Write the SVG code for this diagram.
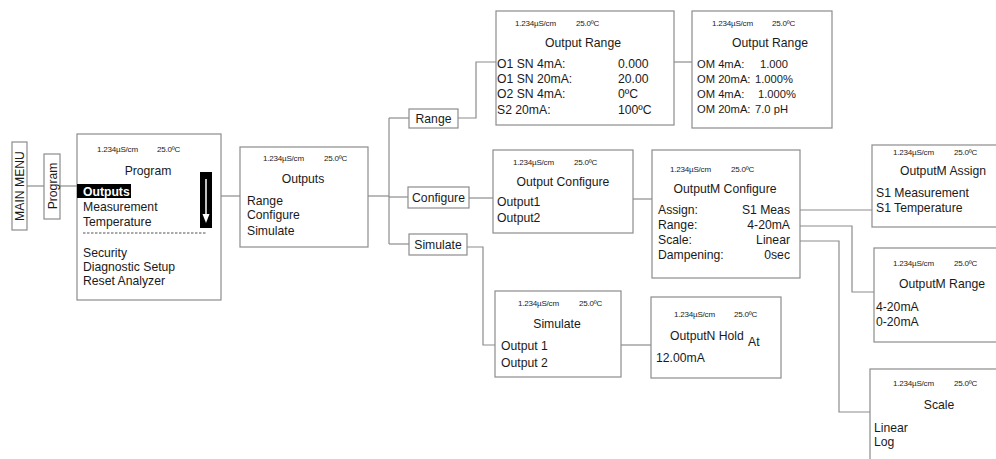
<svg xmlns="http://www.w3.org/2000/svg" width="996" height="459" viewBox="0 0 996 459">
<style>
.box{fill:#fff;stroke:#8c8c8c;stroke-width:1.2}
.ln{fill:none;stroke:#8c8c8c;stroke-width:1.2}
text{font-family:"Liberation Sans",Arial,sans-serif;fill:#1a1a1a}
.t{font-size:12.2px}
.n{font-size:11.2px}
.s{font-size:8px;letter-spacing:-0.2px}
.c{text-anchor:middle}
.r{text-anchor:end}
</style>
<rect width="996" height="459" fill="#fff"/>
<g id="connectors">
<path class="ln" d="M27,186 H44"/>
<path class="ln" d="M60,186 H77"/>
<path class="ln" d="M221,196 H240"/>
<path class="ln" d="M368,196 H389"/>
<path class="ln" d="M389,118 V244"/>
<path class="ln" d="M389,118 H409"/>
<path class="ln" d="M389,197 H408"/>
<path class="ln" d="M389,244 H409"/>
<path class="ln" d="M458,118 H476 V62 H496"/>
<path class="ln" d="M674,62 H692"/>
<path class="ln" d="M469,198 H493"/>
<path class="ln" d="M633,199 H652"/>
<path class="ln" d="M467,247 H483 V345 H495"/>
<path class="ln" d="M621,345 H651"/>
<path class="ln" d="M794,210 H872"/>
<path class="ln" d="M794,226 H852 V292 H874"/>
<path class="ln" d="M796,241 H839 V412 H870"/>
</g>
<g id="main-menu">
<rect class="box" x="12" y="142" width="15" height="88"/>
<text class="t" transform="translate(24,186) rotate(-90)" text-anchor="middle" font-size="11.5">MAIN MENU</text>
</g>
<g id="program-tab">
<rect class="box" x="44" y="154" width="16" height="65"/>
<text class="t" transform="translate(56.5,186) rotate(-90)" text-anchor="middle" font-size="11.5">Program</text>
</g>
<g id="program">
<rect class="box" x="77" y="134" width="144" height="166"/>
<text class="s" x="97" y="152">1.234µS/cm</text><text class="s" x="157" y="152">25.0ºC</text>
<text class="t c" x="148" y="175">Program</text>
<rect x="77" y="184" width="54" height="14" fill="#000"/>
<text class="t" x="83" y="196" font-weight="bold" style="fill:#fff">Outputs</text>
<text class="t" x="83" y="211">Measurement</text>
<text class="t" x="83" y="226">Temperature</text>
<path d="M83,233 H207" stroke="#555" stroke-width="1" stroke-dasharray="2.5,1.5"/>
<text class="t" x="83" y="257">Security</text>
<text class="t" x="83" y="271">Diagnostic Setup</text>
<text class="t" x="83" y="285">Reset Analyzer</text>
<rect x="200" y="172" width="12" height="56" fill="#000"/>
<path d="M206,179 V220" stroke="#fff" stroke-width="1.5"/>
<path d="M202.5,214 L206,223 L209.5,214 Z" fill="#fff"/>
</g>
<g id="outputs">
<rect class="box" x="240" y="147" width="128" height="100"/>
<text class="s" x="263" y="161">1.234µS/cm</text><text class="s" x="324" y="161">25.0ºC</text>
<text class="t c" x="303" y="183">Outputs</text>
<text class="t" x="247" y="205">Range</text>
<text class="t" x="247" y="219">Configure</text>
<text class="t" x="247" y="235">Simulate</text>
</g>
<g id="range-tab">
<rect class="box" x="409" y="109" width="49" height="19"/>
<text class="t c" x="433.5" y="123">Range</text>
</g>
<g id="configure-tab">
<rect class="box" x="408" y="187" width="61" height="21"/>
<text class="t c" x="438.5" y="202">Configure</text>
</g>
<g id="simulate-tab">
<rect class="box" x="409" y="234" width="58" height="21"/>
<text class="t c" x="438" y="249">Simulate</text>
</g>
<g id="output-range-1">
<rect class="box" x="496" y="11" width="178" height="114"/>
<text class="s" x="515" y="26">1.234µS/cm</text><text class="s" x="576" y="26">25.0ºC</text>
<text class="t c" x="583" y="47">Output Range</text>
<text class="t" x="497" y="68">O1 SN 4mA:</text>
<text class="t" x="497" y="83">O1 SN 20mA:</text>
<text class="t" x="497" y="98">O2 SN 4mA:</text>
<text class="t" x="497" y="114">S2 20mA:</text>
<text class="t" x="618" y="68">0.000</text>
<text class="t" x="618" y="83">20.00</text>
<text class="t" x="618" y="98">0ºC</text>
<text class="t" x="618" y="114">100ºC</text>
</g>
<g id="output-range-2">
<rect class="box" x="692" y="11" width="140" height="117"/>
<text class="s" x="712" y="26">1.234µS/cm</text><text class="s" x="772" y="26">25.0ºC</text>
<text class="t c" x="770" y="47">Output Range</text>
<text class="n" x="697" y="68">OM 4mA:</text>
<text class="n" x="760" y="68">1.000</text>
<text class="n" x="697" y="83">OM 20mA:</text>
<text class="n" x="755" y="83">1.000%</text>
<text class="n" x="697" y="98">OM 4mA:</text>
<text class="n" x="758" y="98">1.000%</text>
<text class="n" x="697" y="113">OM 20mA:</text>
<text class="n" x="755" y="113">7.0 pH</text>
</g>
<g id="output-configure">
<rect class="box" x="493" y="150" width="140" height="83"/>
<text class="s" x="513" y="165">1.234µS/cm</text><text class="s" x="574" y="165">25.0ºC</text>
<text class="t c" x="563" y="186">Output Configure</text>
<text class="t" x="497" y="206">Output1</text>
<text class="t" x="497" y="222">Output2</text>
</g>
<g id="outputm-configure">
<rect class="box" x="652" y="150" width="148" height="128"/>
<text class="s" x="670" y="172">1.234µS/cm</text><text class="s" x="731" y="172">25.0ºC</text>
<text class="t c" x="725" y="193">OutputM Configure</text>
<text class="t" x="658" y="214">Assign:</text>
<text class="t" x="658" y="229">Range:</text>
<text class="t" x="658" y="244">Scale:</text>
<text class="t" x="658" y="259">Dampening:</text>
<text class="t r" x="790" y="214">S1 Meas</text>
<text class="t r" x="790" y="229">4-20mA</text>
<text class="t r" x="790" y="244">Linear</text>
<text class="t r" x="790" y="259">0sec</text>
</g>
<g id="outputm-assign">
<rect class="box" x="872" y="145" width="140" height="82"/>
<text class="s" x="893" y="155">1.234µS/cm</text><text class="s" x="954" y="155">25.0ºC</text>
<text class="t c" x="943" y="175">OutputM Assign</text>
<text class="t" x="876" y="197">S1 Measurement</text>
<text class="t" x="876" y="212">S1 Temperature</text>
</g>
<g id="outputm-range">
<rect class="box" x="874" y="248" width="140" height="94"/>
<text class="s" x="893" y="266">1.234µS/cm</text><text class="s" x="954" y="266">25.0ºC</text>
<text class="t c" x="942" y="288">OutputM Range</text>
<text class="t" x="876" y="311">4-20mA</text>
<text class="t" x="876" y="326">0-20mA</text>
</g>
<g id="scale">
<rect class="box" x="870" y="369" width="140" height="100"/>
<text class="s" x="893" y="386">1.234µS/cm</text><text class="s" x="954" y="386">25.0ºC</text>
<text class="t c" x="939" y="409">Scale</text>
<text class="t" x="874" y="432">Linear</text>
<text class="t" x="874" y="446">Log</text>
</g>
<g id="simulate">
<rect class="box" x="495" y="291" width="126" height="86"/>
<text class="s" x="518" y="306">1.234µS/cm</text><text class="s" x="579" y="306">25.0ºC</text>
<text class="t c" x="557" y="328">Simulate</text>
<text class="t" x="501" y="350">Output 1</text>
<text class="t" x="501" y="367">Output 2</text>
</g>
<g id="outputn-hold">
<rect class="box" x="651" y="297" width="130" height="81"/>
<text class="s" x="674" y="317">1.234µS/cm</text><text class="s" x="734" y="317">25.0ºC</text>
<text class="t" x="670" y="340">OutputN Hold</text>
<text class="t" x="748" y="346">At</text>
<text class="t" x="656" y="362">12.00mA</text>
</g>
</svg>
